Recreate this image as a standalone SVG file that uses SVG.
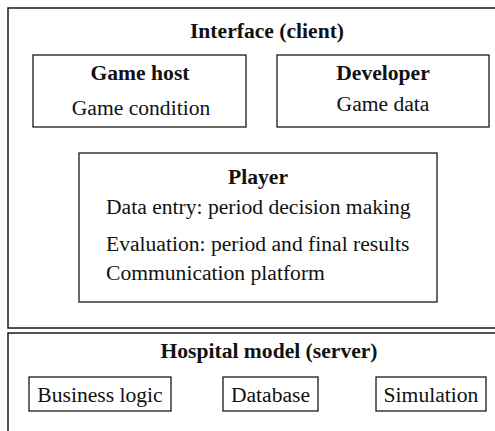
<svg xmlns="http://www.w3.org/2000/svg" width="495" height="431" viewBox="0 0 495 431">
  <style>
    .frame { fill: none; stroke: #1a1a1a; stroke-width: 1.5; }
    .box { fill: #ffffff; stroke: #1a1a1a; stroke-width: 1.3; }
    .t { font-family: "Liberation Serif", "Times New Roman", serif; font-size: 21.6px; fill: #111; }
    .b { font-weight: bold; }
    .c { text-anchor: middle; }
  </style>
  <rect width="495" height="431" fill="#ffffff"/>

  <!-- client tier -->
  <g id="interface">
    <rect class="frame" x="8" y="8" width="500" height="320"/>
    <text class="t b c" x="267" y="38">Interface (client)</text>
  </g>
  <g id="game-host">
    <rect class="box" x="33" y="55" width="213" height="72"/>
    <text class="t b c" x="140" y="80">Game host</text>
    <text class="t c" x="141" y="115">Game condition</text>
  </g>
  <g id="developer">
    <rect class="box" x="277" y="55" width="212" height="72"/>
    <text class="t b c" x="383" y="80">Developer</text>
    <text class="t c" x="383" y="111">Game data</text>
  </g>
  <g id="player">
    <rect class="box" x="79" y="153" width="358" height="149"/>
    <text class="t b c" x="258" y="184">Player</text>
    <text class="t" x="106" y="214">Data entry: period decision making</text>
    <text class="t" x="106" y="251">Evaluation: period and final results</text>
    <text class="t" x="106" y="280">Communication platform</text>
  </g>

  <!-- server tier -->
  <g id="hospital-model">
    <rect class="frame" x="8" y="333" width="500" height="110"/>
    <text class="t b c" x="269" y="358">Hospital model (server)</text>
  </g>
  <g id="business-logic">
    <rect class="box" x="29" y="377" width="142" height="34"/>
    <text class="t c" x="100" y="402">Business logic</text>
  </g>
  <g id="database">
    <rect class="box" x="223" y="377" width="95" height="34"/>
    <text class="t c" x="270.5" y="402">Database</text>
  </g>
  <g id="simulation">
    <rect class="box" x="376" y="377" width="110" height="34"/>
    <text class="t c" x="431" y="402">Simulation</text>
  </g>

  <g id="connectors"/>
</svg>
